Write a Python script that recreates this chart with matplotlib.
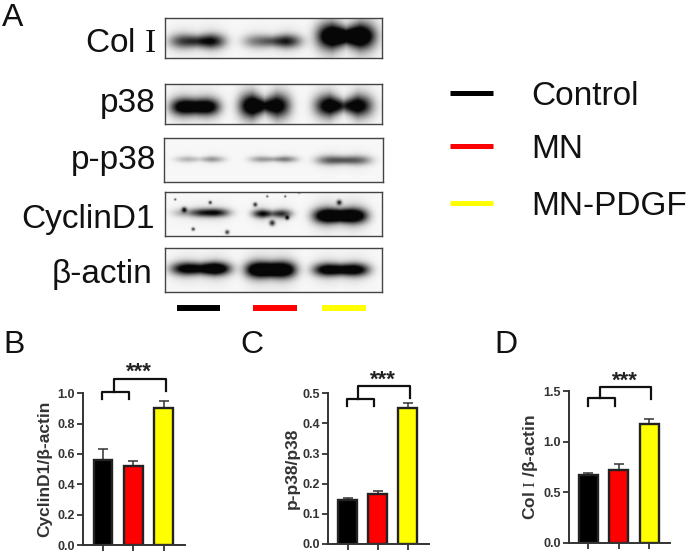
import numpy as np
import matplotlib
matplotlib.use("Agg")
import matplotlib.pyplot as plt
from matplotlib.transforms import Affine2D
from matplotlib.lines import Line2D

W, H = 688, 554

groups = ["Control", "MN", "MN-PDGF"]
colors = ["#000000", "#FF0000", "#FFFF00"]

cyclin_vals = [0.56, 0.52, 0.90]
cyclin_errs = [0.07, 0.035, 0.05]
p38_vals = [0.147, 0.167, 0.45]
p38_errs = [0.006, 0.008, 0.017]
col_vals = [0.67, 0.725, 1.18]
col_errs = [0.025, 0.055, 0.045]

# blot rows: name, box (x0, y0, x1, y1), label baseline
blot_names = [r"Col $\mathrm{I}$", "p38", "p-p38", "CyclinD1", "β-actin"]
blot_boxes = [(165, 18, 382, 58), (165, 84, 382, 124), (164, 138, 383, 182),
              (165, 192, 382, 236), (165, 248, 382, 292)]
blot_base = [52, 112, 169, 228, 283]
blot_right = [156, 156, 156, 155, 152]

# bands per row: x0, x1, yc, h lobes, h middle, dark left, dark middle, dark right
col_bands = [(170, 224, 41, 7, 6, .6, .62, .8),
             (244, 300, 41, 6.5, 5.5, .42, .5, .72),
             (318, 374, 36, 12, 8, 1.2, 1.05, 1.2)]
p38_bands = [(171, 219, 107, 8, 7.5, 1.0, .95, 1.0),
             (240, 289, 106, 11, 7, 1.1, .75, .95),
             (316, 371, 106, 10, 6, 1.0, .6, .95)]
pp38_bands = [(176, 223, 159, 3, 2.5, .22, .12, .32),
              (250, 296, 159, 3, 2.5, .3, .25, .4),
              (317, 370, 160, 4.5, 4, .5, .48, .48)]
cyclin_bands = [(174, 228, 213, 4, 4, .3, .65, .8),
                (253, 291, 214, 4, 3.5, .8, .45, .65),
                (314, 366, 216, 7, 6, 1.2, 1.2, 1.2)]
actin_bands = [(172, 229, 269, 6, 5.5, .95, .85, 1.2),
               (246, 295, 270, 7.5, 7, 1.2, 1.2, 1.2),
               (314, 368, 270, 6, 5.5, 1.0, .9, 1.0)]
all_bands = [col_bands, p38_bands, pp38_bands, cyclin_bands, actin_bands]
# dust on the cyclin blot: x, y, radius
cyclin_specks = [(184, 210, 2.5), (210, 203, 1.6), (193, 229, 1.6), (227, 232, 2),
                 (255, 205, 2), (272, 223, 2.8), (287, 218, 2), (339, 203, 2.5),
                 (299, 193, 1.2), (267, 197, 1), (285, 197, 1), (175, 200, 1)]

plt.rcParams["font.family"] = ["Liberation Sans", "DejaVu Sans"]
plt.rcParams["mathtext.fontset"] = "custom"
plt.rcParams["mathtext.rm"] = "Liberation Serif"

fig = plt.figure(figsize=(W / 100, H / 100), dpi=100)
fig.patch.set_facecolor("white")
px = Affine2D().scale(1, -1).translate(0, H)


def pixel_axes(x0, y0, x1, y1):
    return fig.add_axes([x0 / W, 1 - y1 / H, (x1 - x0) / W, (y1 - y0) / H])


def draw_blot(box, bands, specks=()):
    x0, y0, x1, y1 = box
    xx, yy = np.meshgrid(np.arange(x0, x1, 0.5), np.arange(y0, y1, 0.5))
    dark = np.full(xx.shape, 0.03)
    for bx0, bx1, yc, h1, h2, d1, d2, d3 in bands:
        xc = (bx0 + bx1) / 2
        half = (bx1 - bx0) / 2
        u = (xx - xc) / half
        edge = np.exp(-np.abs(u) ** 4)
        strength = np.interp(u, [-1, -.5, 0, .5, 1], [d1, d1, d2, d3, d3])
        hh = h2 + (h1 - h2) * np.minimum(1, np.abs(u) * 2)
        dark += strength * edge * np.exp(-((yy - yc) / hh) ** 2) * 1.2
        # soft halo around the band
        dark += 0.14 * strength * edge * np.exp(-((yy - yc) / (2.2 * hh)) ** 2)
    for sx, sy, r in specks:
        dark += 0.8 * np.exp(-(((xx - sx) ** 2 + (yy - sy) ** 2) / r ** 2))
    ax = pixel_axes(x0, y0, x1, y1)
    ax.imshow(1 - np.clip(dark, 0, 0.97), cmap="gray", vmin=0, vmax=1, aspect="auto",
              interpolation="bilinear")
    ax.set_xticks([])
    ax.set_yticks([])
    for s in ax.spines.values():
        s.set_color("#444444")
        s.set_linewidth(1.0)


for i in range(len(blot_names)):
    draw_blot(blot_boxes[i], all_bands[i], cyclin_specks if i == 3 else ())
    fig.text(blot_right[i], blot_base[i], blot_names[i], transform=px, ha="right",
             va="baseline", fontsize=24, color="#111111")

# colour key under the blots
for c, (a, b) in zip(colors, [(177, 220), (253, 297), (322, 366)]):
    fig.add_artist(Line2D([a, b], [308, 308], transform=px, color=c, lw=4.3,
                          solid_capstyle="butt"))

# legend
for name, c, ly, base in zip(groups, colors, [93, 146, 203], [105, 158, 215]):
    fig.add_artist(Line2D([450, 493], [ly, ly], transform=px, color=c, lw=3.6,
                          solid_capstyle="butt"))
    fig.text(531, base, name, transform=px, fontsize=24, color="#111111")

for letter, lx, ly in [("A", 2, 26), ("B", 3, 353), ("C", 240, 353), ("D", 494, 353)]:
    fig.text(lx, ly, letter, transform=px, fontsize=23, color="#111111")


def draw_bars(box, vals, errs, ymax, yticks, fmt, label, label_x, label_y, centers):
    ax = pixel_axes(*box)
    step = centers[1] - centers[0]
    ax.set_xlim((box[0] - centers[0]) / step, (box[2] - centers[0]) / step)
    ax.set_ylim(0, ymax)
    pos = np.arange(3)
    ax.bar(pos, vals, width=0.62, color=colors, edgecolor="#222222", linewidth=1.7,
           zorder=2)
    ax.errorbar(pos, vals, yerr=[np.zeros(3), errs], fmt="none", ecolor="#333333",
                elinewidth=1.1, capsize=3.6, capthick=1.1, zorder=1)
    ax.set_xticks(pos)
    ax.set_xticklabels([])
    ax.set_yticks(yticks)
    ax.set_yticklabels([fmt % t for t in yticks], fontsize=9, fontweight="bold",
                       color="#333333")
    ax.tick_params(axis="both", length=4.3, width=1.3, color="#333333", pad=1.5)
    ax.spines["top"].set_visible(False)
    ax.spines["right"].set_visible(False)
    ax.spines["left"].set_linewidth(1.4)
    ax.spines["bottom"].set_linewidth(1.4)
    ax.spines["left"].set_color("#333333")
    ax.spines["bottom"].set_color("#333333")
    ax.patch.set_alpha(0)
    fig.text(label_x, label_y, label, transform=px, rotation=90, ha="center", va="center",
             fontsize=12.5, fontweight="bold", color="#333333")


def bracket(lo_x, hi_x, lo_top, lo_leg, hi_top, hi_leg, star_x, star_y):
    fig.add_artist(Line2D([lo_x[0], lo_x[0], lo_x[1], lo_x[1]],
                          [lo_leg, lo_top, lo_top, lo_leg], transform=px,
                          color="#111111", lw=1.6))
    fig.add_artist(Line2D([hi_x[0], hi_x[0], hi_x[1], hi_x[1]],
                          [lo_top, hi_top, hi_top, hi_leg], transform=px,
                          color="#111111", lw=1.6))
    fig.text(star_x, star_y, "***", transform=px, ha="center", va="center", fontsize=16,
             fontweight="bold", color="#222222")


draw_bars((83.3, 393.3, 185, 545), cyclin_vals, cyclin_errs, 1.0,
          [0.0, 0.2, 0.4, 0.6, 0.8, 1.0], "%.1f", "CyclinD1/β-actin", 45, 469,
          [103, 133.3, 163.7])
bracket((102, 129), (114, 165.7), 391.7, 399, 378.7, 390.7, 139, 372)

draw_bars((328, 393.3, 429, 544), p38_vals, p38_errs, 0.5,
          [0.0, 0.1, 0.2, 0.3, 0.4, 0.5], "%.1f", "p-p38/p38", 292, 468,
          [347.7, 377.7, 408])
bracket((346.7, 373.7), (358, 410), 398.7, 406, 386, 398.3, 383, 380)

draw_bars((568.7, 391.3, 670, 542.7), col_vals, col_errs, 1.5,
          [0.0, 0.5, 1.0, 1.5], "%.1f", r"Col $\mathrm{I}$ /β-actin", 530, 467,
          [588.3, 618.7, 649])
bracket((587.7, 614.7), (599.7, 650.7), 398, 405.7, 387, 399.3, 625, 381)

fig.savefig("out.png", dpi=100)
